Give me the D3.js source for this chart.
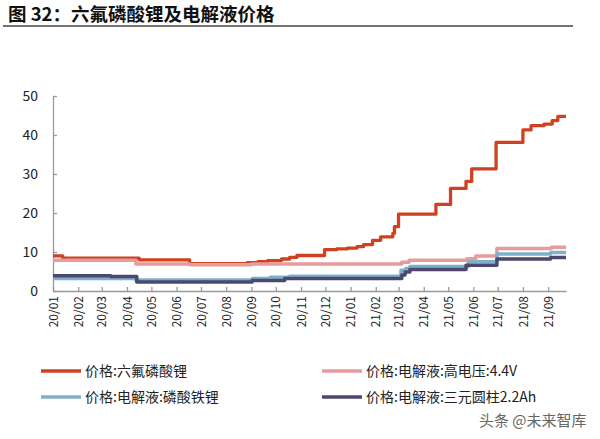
<!DOCTYPE html>
<html>
<head>
<meta charset="utf-8">
<script src="https://cdn.jsdelivr.net/npm/d3@7"></script>
<style>
body { margin: 0; background: #fff; }
text { font-family: "Noto Sans CJK SC", "Noto Sans", sans-serif; }
</style>
</head>
<body>
<script>
// Width and height
var w = 600;
var h = 439;

// series: change points [date, value] of each step line
var lipf6 = [
	["2020-01-01", 9.0], ["2020-01-13", 8.4], ["2020-04-16", 8.0], ["2020-06-17", 7.0],
	["2020-08-27", 7.3], ["2020-09-09", 7.5], ["2020-09-21", 7.8], ["2020-10-08", 8.2],
	["2020-10-18", 8.6], ["2020-10-27", 9.1], ["2020-11-30", 10.6], ["2020-12-15", 10.8],
	["2020-12-28", 11.0], ["2021-01-09", 11.4], ["2021-01-17", 11.9], ["2021-01-28", 13.0],
	["2021-02-07", 13.9], ["2021-02-22", 14.8], ["2021-02-24", 16.5], ["2021-03-01", 19.7],
	["2021-04-16", 22.2], ["2021-05-04", 26.3], ["2021-05-23", 28.1], ["2021-05-30", 31.3],
	["2021-06-29", 38.1], ["2021-08-01", 41.3], ["2021-08-11", 42.4], ["2021-08-27", 42.8],
	["2021-09-06", 43.7], ["2021-09-13", 44.8]
];
var highVoltage = [
	["2020-01-01", 7.9], ["2020-04-12", 6.9], ["2020-06-17", 6.7], ["2020-09-01", 6.9],
	["2021-03-05", 7.4], ["2021-03-14", 7.9], ["2021-05-24", 8.3], ["2021-06-04", 9.0],
	["2021-06-30", 10.9], ["2021-09-05", 11.2]
];
var lfp = [
	["2020-01-01", 3.2], ["2020-04-12", 2.8], ["2020-09-02", 3.2], ["2020-09-24", 3.5],
	["2020-10-18", 3.8], ["2021-03-04", 5.3], ["2021-03-10", 5.8], ["2021-03-15", 6.3],
	["2021-05-26", 7.5], ["2021-06-30", 9.5], ["2021-09-04", 9.9]
];
var ncm = [
	["2020-01-01", 3.9], ["2020-03-12", 3.7], ["2020-04-13", 2.3], ["2020-09-02", 2.7],
	["2020-10-12", 3.2], ["2021-03-05", 4.1], ["2021-03-09", 4.9], ["2021-03-15", 5.5],
	["2021-05-23", 6.6], ["2021-06-30", 8.2], ["2021-09-04", 8.6]
];
var endDate = "2021-09-23";
var seriesNames = ["价格:六氟磷酸锂", "价格:电解液:高电压:4.4V", "价格:电解液:磷酸铁锂", "价格:电解液:三元圆柱2.2Ah"];
var yTicks = [0, 10, 20, 30, 40, 50];

var colors = ["rgb(208, 65, 32)", "rgb(230, 156, 156)", "rgb(126, 176, 200)", "rgb(76, 72, 112)"];
var widths = [3.3, 3.5, 3.5, 3.5];

var parse = d3.timeParse("%Y-%m-%d");

var svg = d3.select("body")
	.append("svg")
	.attr("width", w)
	.attr("height", h);

// title
svg.append("text")
	.attr("x", 8)
	.attr("y", 21)
	.attr("font-size", "18.5px")
	.attr("font-weight", "bold")
	.attr("fill", "#111")
	.text("图 32：六氟磷酸锂及电解液价格");
svg.append("line")
	.attr("x1", 3).attr("x2", 573)
	.attr("y1", 26).attr("y2", 26)
	.style("stroke", "#444")
	.style("stroke-width", 1.5);

var x = d3.scaleTime()
	.domain([parse("2020-01-01"), parse(endDate)])
	.range([53, 566]);
var y = d3.scaleLinear()
	.domain([0, 50])
	.range([291, 96]);

// axes
var xAxis = svg.append("g")
	.attr("transform", "translate(0," + y(0) + ")")
	.call(d3.axisBottom(x)
		.ticks(d3.timeMonth.every(1))
		.tickFormat(d3.timeFormat("%y/%m"))
		.tickSizeInner(-4)
		.tickSizeOuter(0));
xAxis.selectAll("text")
	.attr("transform", "rotate(-90)")
	.attr("text-anchor", "end")
	.attr("x", -5)
	.attr("y", 0)
	.attr("dy", "0.35em")
	.attr("font-size", "12px")
	.attr("fill", "#222");

var yAxis = svg.append("g")
	.attr("transform", "translate(53,0)")
	.call(d3.axisLeft(y)
		.tickValues(yTicks)
		.tickSizeInner(-4)
		.tickSizeOuter(0));
yAxis.selectAll("text")
	.attr("x", -15)
	.attr("font-size", "14px")
	.attr("fill", "#222");

svg.selectAll(".domain, .tick line")
	.style("stroke", "#999")
	.style("stroke-width", 1.3);

// lines
var line = d3.line()
	.curve(d3.curveStepAfter)
	.x(function(d) { return x(parse(d[0])); })
	.y(function(d) { return y(d[1]); });

[lipf6, highVoltage, lfp, ncm].forEach(function(s, i) {
	var pts = s.concat([[endDate, s[s.length - 1][1]]]);
	svg.append("path")
		.datum(pts)
		.attr("d", line)
		.attr("fill", "none")
		.style("stroke", colors[i])
		.style("stroke-width", widths[i])
		.style("stroke-linejoin", "round");
});

// legend
var legendPos = [[41, 371], [322, 371], [41, 397], [322, 397]];
seriesNames.forEach(function(name, i) {
	var p = legendPos[i];
	svg.append("line")
		.attr("x1", p[0]).attr("x2", p[0] + 40)
		.attr("y1", p[1]).attr("y2", p[1])
		.style("stroke", colors[i])
		.style("stroke-width", 3.5);
	svg.append("text")
		.attr("x", p[0] + 44)
		.attr("y", p[1])
		.attr("dy", "0.35em")
		.attr("font-size", "14px")
		.attr("fill", "#222")
		.text(name);
});

// watermark
svg.append("text")
	.attr("x", 479)
	.attr("y", 426)
	.attr("font-size", "15px")
	.attr("fill", "#666")
	.text("头条 @未来智库");
</script>
</body>
</html>
